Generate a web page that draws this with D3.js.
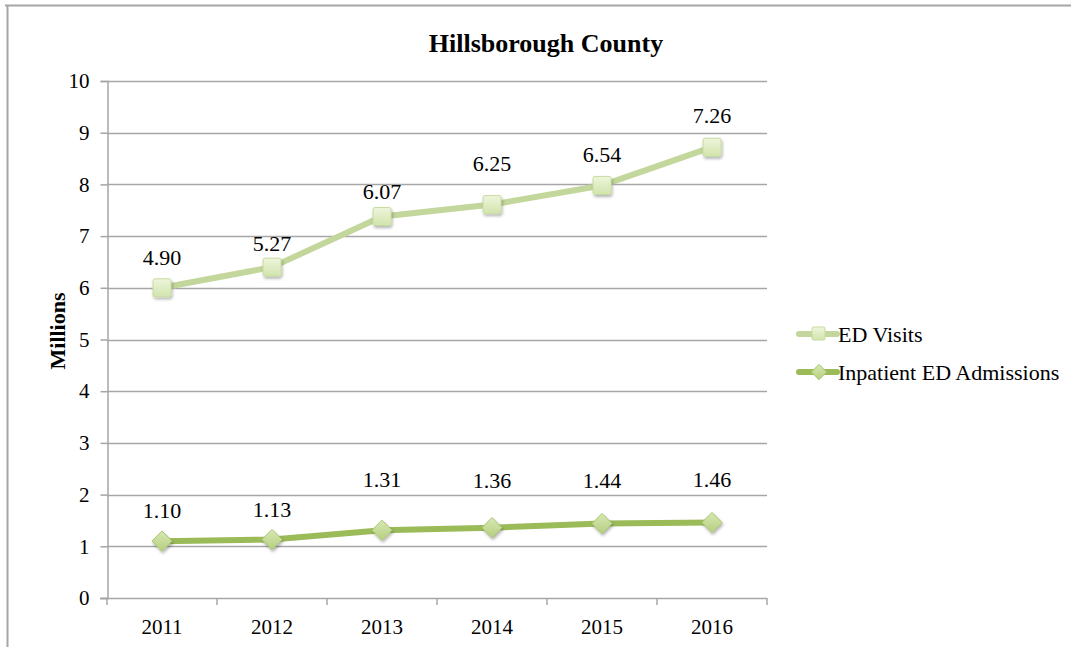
<!DOCTYPE html>
<html>
<head>
<meta charset="utf-8">
<script src="https://cdn.jsdelivr.net/npm/d3@7"></script>
<style>
  html, body { margin: 0; padding: 0; background: #fff; }
  svg { display: block; font-family: "Liberation Serif", "Times New Roman", serif; }
  svg text { font-family: "Liberation Serif", "Times New Roman", serif; fill: #000; }
</style>
</head>
<body>
<svg id="chart" width="1071" height="647"></svg>
<script>
// Hillsborough County — ED visits and inpatient ED admissions (millions), stacked lines
const years = ["2011", "2012", "2013", "2014", "2015", "2016"];
const inpatientAdmissions = [1.10, 1.13, 1.31, 1.36, 1.44, 1.46];
const edVisits = [4.90, 5.27, 6.07, 6.25, 6.54, 7.26];
const yTicks = [0, 1, 2, 3, 4, 5, 6, 7, 8, 9, 10];
const seriesNames = ["ED Visits", "Inpatient ED Admissions"];

// Hand-placed data label lifts (px above each marker)
const visLabelLift = [23, 16, 17, 34, 23, 24];
const inpLabelLift = [23, 23, 43, 40, 36, 36];

const svg = d3.select("#chart");
const W = 1071, H = 647;
const plot = { left: 107, right: 767, top: 81, bottom: 598 };
const grid = "#a6a6a6";

// Frame lines
svg.append("line").attr("x1", 5).attr("x2", W).attr("y1", 5.5).attr("y2", 5.5)
  .attr("stroke", grid).attr("stroke-width", 2);
svg.append("line").attr("x1", 7.5).attr("x2", 7.5).attr("y1", 5).attr("y2", H)
  .attr("stroke", grid).attr("stroke-width", 2);

// Marker effects
const defs = svg.append("defs");
const f = defs.append("filter").attr("id", "shadow").attr("x", "-50%").attr("y", "-50%")
  .attr("width", "200%").attr("height", "200%");
f.append("feDropShadow").attr("dx", 1).attr("dy", 2).attr("stdDeviation", 1.5)
  .attr("flood-color", "#000").attr("flood-opacity", 0.3);
const gSq = defs.append("linearGradient").attr("id", "sqFill").attr("x1", 0).attr("y1", 0).attr("x2", 0).attr("y2", 1);
gSq.append("stop").attr("offset", "0%").attr("stop-color", "#eef5dc");
gSq.append("stop").attr("offset", "100%").attr("stop-color", "#d2e4ac");
const gDi = defs.append("linearGradient").attr("id", "diFill").attr("x1", 0).attr("y1", 0).attr("x2", 0).attr("y2", 1);
gDi.append("stop").attr("offset", "0%").attr("stop-color", "#d8e8b4");
gDi.append("stop").attr("offset", "100%").attr("stop-color", "#b5cf7f");

const x = d3.scaleBand().domain(years).range([plot.left, plot.right]);
const y = d3.scaleLinear().domain([0, 10]).range([plot.bottom, plot.top]);

// Stack: admissions at bottom, visits on top
const rows = years.map((yr, i) => ({ year: yr, inpatient: inpatientAdmissions[i], visits: edVisits[i] }));
const stacked = d3.stack().keys(["inpatient", "visits"])(rows);
const inpLayer = stacked[0], visLayer = stacked[1];

// Gridlines
svg.append("g").selectAll("line").data(yTicks.filter(t => t > 0)).join("line")
  .attr("x1", plot.left).attr("x2", plot.right)
  .attr("y1", d => Math.round(y(d)) + 0.5).attr("y2", d => Math.round(y(d)) + 0.5)
  .attr("stroke", grid).attr("stroke-width", 1.5);

// Y axis
const yAxis = svg.append("g").attr("transform", `translate(${plot.left + 0.5},0)`)
  .call(d3.axisLeft(y).tickValues(yTicks).tickFormat(d3.format("d")).tickSize(7).tickPadding(11));
yAxis.select(".domain").attr("stroke", grid).attr("stroke-width", 1.5);
yAxis.selectAll(".tick line").attr("stroke", grid).attr("stroke-width", 1.5);
yAxis.selectAll("text").attr("font-size", 21).attr("font-family", null);

// X axis
const xAxis = svg.append("g").attr("transform", `translate(0,${Math.round(y(0)) + 0.5})`)
  .call(d3.axisBottom(x).tickSize(0).tickPadding(21));
xAxis.select(".domain").remove();
xAxis.selectAll("text").attr("font-size", 21).attr("font-family", null);
svg.append("line").attr("x1", plot.left - 7).attr("x2", plot.right)
  .attr("y1", Math.round(y(0)) + 0.5).attr("y2", Math.round(y(0)) + 0.5)
  .attr("stroke", grid).attr("stroke-width", 1.5);
svg.append("g").selectAll("line").data(d3.range(years.length + 1)).join("line")
  .attr("x1", i => plot.left + i * x.bandwidth()).attr("x2", i => plot.left + i * x.bandwidth())
  .attr("y1", Math.round(y(0))).attr("y2", Math.round(y(0)) + 7)
  .attr("stroke", grid).attr("stroke-width", 1.5);

// Title and axis label
svg.append("text").attr("x", 546).attr("y", 52).attr("text-anchor", "middle")
  .attr("font-size", 26).attr("font-weight", "bold").text("Hillsborough County");
svg.append("text").attr("transform", "translate(65,331) rotate(-90)")
  .attr("text-anchor", "middle").attr("font-size", 22).attr("font-weight", "bold").text("Millions");

const cx = d => x(d.data.year) + x.bandwidth() / 2;
const line = d3.line().x(cx).y(d => y(d[1]));

const visColor = "#c3d69b", inpColor = "#9bbb59";

// ED Visits line + square markers
svg.append("path").datum(visLayer).attr("d", line).attr("fill", "none")
  .attr("stroke", visColor).attr("stroke-width", 6).attr("stroke-linejoin", "round");
svg.append("g").selectAll("rect").data(visLayer).join("rect")
  .attr("x", d => cx(d) - 9).attr("y", d => y(d[1]) - 9).attr("width", 18).attr("height", 18)
  .attr("rx", 2).attr("fill", "url(#sqFill)").attr("stroke", "#c6dca0").attr("stroke-width", 1)
  .attr("filter", "url(#shadow)");

// Inpatient line + diamond markers
svg.append("path").datum(inpLayer).attr("d", line).attr("fill", "none")
  .attr("stroke", inpColor).attr("stroke-width", 6).attr("stroke-linejoin", "round");
const diamond = d3.symbol().type(d3.symbolDiamond2).size(260);
svg.append("g").selectAll("path").data(inpLayer).join("path")
  .attr("transform", d => `translate(${cx(d)},${y(d[1])})`)
  .attr("d", diamond).attr("fill", "url(#diFill)").attr("stroke", "#a9c56e").attr("stroke-width", 1)
  .attr("filter", "url(#shadow)");

// Data labels
svg.append("g").selectAll("text").data(visLayer).join("text")
  .attr("x", cx).attr("y", (d, i) => y(d[1]) - visLabelLift[i]).attr("text-anchor", "middle")
  .attr("font-size", 22).text(d => d3.format(".2f")(d.data.visits));
svg.append("g").selectAll("text").data(inpLayer).join("text")
  .attr("x", cx).attr("y", (d, i) => y(d[1]) - inpLabelLift[i]).attr("text-anchor", "middle")
  .attr("font-size", 22).text(d => d3.format(".2f")(d.data.inpatient));

// Legend
const legItems = [
  { name: seriesNames[0], color: visColor, y: 334, shape: "square" },
  { name: seriesNames[1], color: inpColor, y: 372, shape: "diamond" }
];
legItems.forEach(it => {
  const g = svg.append("g").attr("transform", `translate(0,${it.y})`);
  g.append("line").attr("x1", 799).attr("x2", 837).attr("y1", 0).attr("y2", 0)
    .attr("stroke", it.color).attr("stroke-width", 6).attr("stroke-linecap", "round");
  if (it.shape === "square") {
    g.append("rect").attr("x", 812).attr("y", -7).attr("width", 13).attr("height", 13).attr("rx", 1.5)
      .attr("fill", "url(#sqFill)").attr("stroke", "#c6dca0");
  } else {
    g.append("path").attr("transform", "translate(819,0)")
      .attr("d", d3.symbol().type(d3.symbolDiamond2).size(150))
      .attr("fill", "url(#diFill)").attr("stroke", "#a9c56e");
  }
  g.append("text").attr("x", 838).attr("y", 8).attr("font-size", 22).text(it.name);
});
</script>
</body>
</html>
